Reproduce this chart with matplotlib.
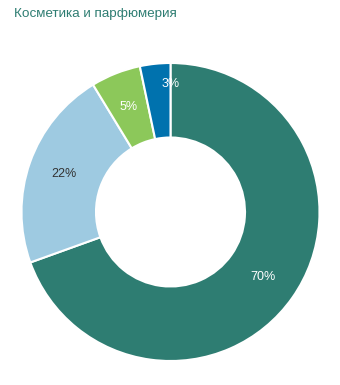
import matplotlib
matplotlib.use("Agg")
import matplotlib.pyplot as plt

title = "Косметика и парфюмерия"
categories = ["A", "B", "C", "D"]
values = [69.5, 21.8, 5.4, 3.3]
labels = ["70%", "22%", "5%", "3%"]
colors = ["#2e7d72", "#9ecae1", "#8cc85a", "#0072ae"]
label_colors = ["white", "#333333", "white", "white"]

fig = plt.figure(figsize=(3.4, 3.85), dpi=100)
ax = fig.add_axes([(170.5 - 149) / 340, (385 - 212 - 149) / 385, 298 / 340, 298 / 385])
wedges, texts, autotexts = ax.pie(
    values, colors=colors, startangle=90, counterclock=False,
    autopct="%1.0f%%", pctdistance=0.76,
    wedgeprops=dict(width=0.5, edgecolor="white", linewidth=1.5),
)
for t, c, lab in zip(autotexts, label_colors, labels):
    t.set_text(lab)
    t.set_color(c)
    t.set_fontsize(9)
    t.set_family("Liberation Sans")
autotexts[3].set_position((0, 0.86))
ax.set_aspect("equal")
ax.set_xlim(-1, 1)
ax.set_ylim(-1, 1)
fig.text(14 / 340, 1 - 14 / 385, title, color="#2e7d72", fontsize=9.7,
         family="Liberation Sans", va="center", ha="left")
fig.savefig("out.png", dpi=100)
